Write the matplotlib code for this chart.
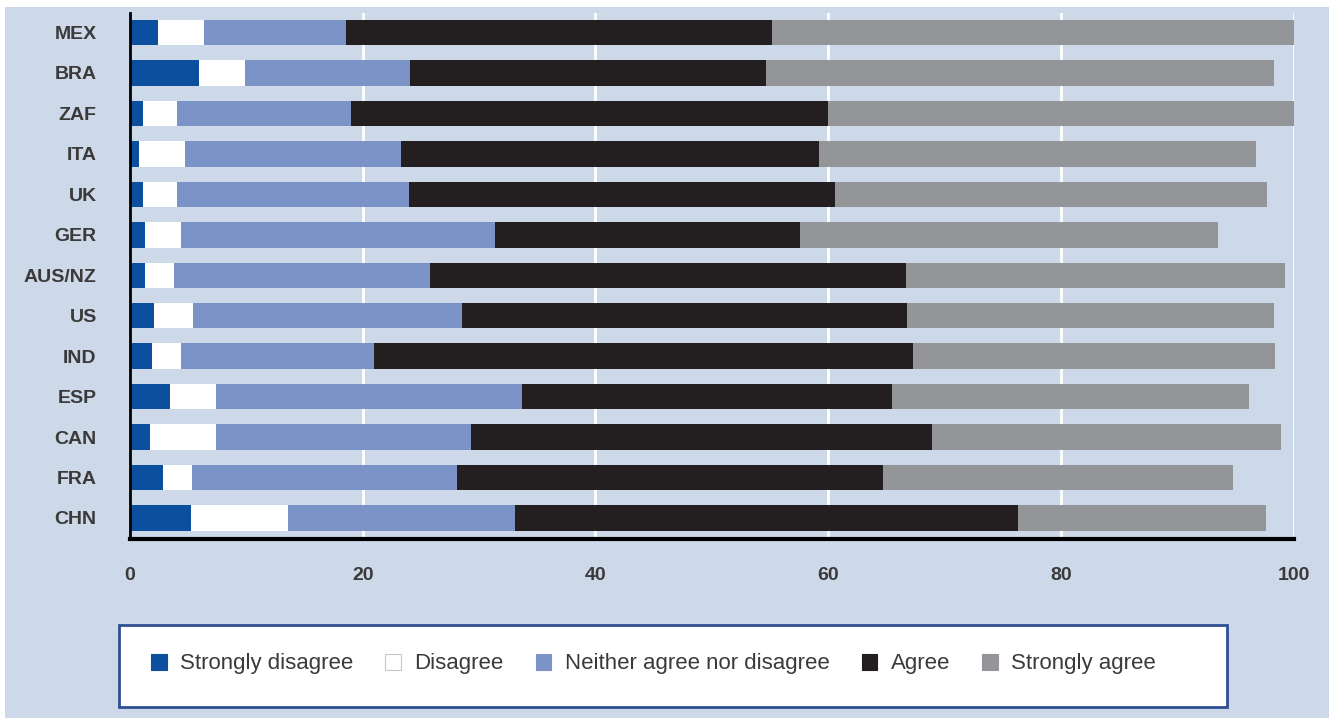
import numpy as np
import matplotlib
matplotlib.use('Agg')
import matplotlib.pyplot as plt
from matplotlib.patches import Rectangle, Patch

plt.rcParams['font.family'] = ['Liberation Sans', 'DejaVu Sans']

countries = ['MEX', 'BRA', 'ZAF', 'ITA', 'UK', 'GER', 'AUS/NZ',
             'US', 'IND', 'ESP', 'CAN', 'FRA', 'CHN']

# shares in percent, per answer
strongly_disagree = [2.4, 5.9, 1.1, 0.8, 1.1, 1.3, 1.3, 2.1, 1.9, 3.4, 1.7, 2.8, 5.2]
disagree          = [4.0, 4.0, 2.9, 3.9, 2.9, 3.1, 2.5, 3.3, 2.5, 4.0, 5.7, 2.5, 8.4]
neither           = [12.2, 14.2, 15.0, 18.6, 20.0, 27.0, 22.0, 23.1, 16.6, 26.3, 21.9, 22.8, 19.5]
agree             = [36.6, 30.6, 41.0, 35.9, 36.6, 26.2, 40.9, 38.3, 46.3, 31.8, 39.6, 36.6, 43.2]
strongly_agree    = [44.8, 43.6, 40.0, 37.6, 37.1, 35.9, 32.6, 31.5, 31.1, 30.7, 30.0, 30.1, 21.3]

series_labels = ['Strongly disagree', 'Disagree', 'Neither agree nor disagree',
                 'Agree', 'Strongly agree']
series = [strongly_disagree, disagree, neither, agree, strongly_agree]
colors = ['#0b4f9e', '#ffffff', '#7b93c6', '#231f20', '#939598']

bg = '#cdd8e8'
label_col = '#3a3a3a'

fig = plt.figure(figsize=(13.29, 7.18), dpi=100)
fig.patch.set_facecolor('white')
# light blue panel behind everything
fig.patches.append(Rectangle((5 / 1329, 0), 1324 / 1329, 711 / 718,
                             transform=fig.transFigure, facecolor=bg,
                             edgecolor='none', zorder=0))

ax = fig.add_axes([130 / 1329, 1 - 539 / 718, 1163.5 / 1329, (539 - 12.7) / 718])
ax.set_zorder(3)
ax.set_facecolor(bg)

y = np.arange(len(countries))
left = np.zeros(len(countries))
for vals, col in zip(series, colors):
    ax.barh(y, vals, left=left, height=0.63, color=col, edgecolor='none', zorder=3)
    left += np.array(vals)

ax.set_xlim(0, 100)
ax.set_ylim(12.52, -0.49)
ax.set_xticks([0, 20, 40, 60, 80, 100])
ax.set_yticks(y)
ax.set_yticklabels(countries)
ax.grid(axis='x', color='white', linewidth=2, zorder=1)
ax.set_axisbelow(True)

for s in ['top', 'right']:
    ax.spines[s].set_visible(False)
ax.spines['left'].set_linewidth(2)
ax.spines['bottom'].set_linewidth(3)
ax.spines['left'].set_zorder(4)
ax.spines['bottom'].set_zorder(4)

ax.tick_params(axis='both', length=0, labelcolor=label_col, labelsize=14)
ax.tick_params(axis='x', pad=20)
ax.tick_params(axis='y', pad=24)
for t in ax.get_xticklabels() + ax.get_yticklabels():
    t.set_fontweight('bold')

# legend box
fig.patches.append(Rectangle((119 / 1329, 1 - 707 / 718), (1227 - 119) / 1329, 82 / 718,
                             transform=fig.transFigure, facecolor='white',
                             edgecolor='#2f4f92', linewidth=2, zorder=1))
handles = [Patch(facecolor=c, edgecolor=('#c8c8c8' if c == '#ffffff' else c), linewidth=0.8)
           for c in colors]
leg = fig.legend(handles, series_labels, loc='center left',
                 bbox_to_anchor=(131 / 1329, 1 - 664 / 718), ncol=5, frameon=False,
                 fontsize=16, handlelength=0.7, handleheight=0.7, handletextpad=0.6,
                 columnspacing=1.45, labelcolor=label_col)
leg.set_zorder(5)

fig.savefig('out.png', dpi=100, facecolor=fig.get_facecolor())
